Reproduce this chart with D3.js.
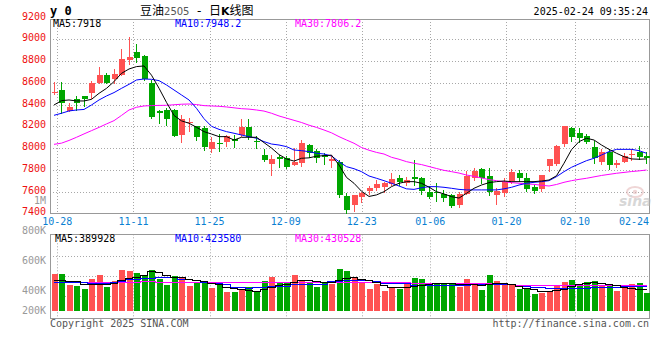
<!DOCTYPE html>
<html><head><meta charset="utf-8">
<script src="https://cdn.jsdelivr.net/npm/d3@7"></script>
<style>body{margin:0;background:#fff}svg{display:block}</style>
</head><body><svg id="c" width="660" height="360"></svg>
<script>
const dates = ['10-25','10-28','10-29','10-30','10-31','11-01','11-04','11-05','11-06','11-07','11-08',
'11-11','11-12','11-13','11-14','11-15','11-18','11-19','11-20','11-21','11-22',
'11-25','11-26','11-27','11-28','11-29','12-02','12-03','12-04','12-05','12-06',
'12-09','12-10','12-11','12-12','12-13','12-16','12-17','12-18','12-19','12-20',
'12-23','12-24','12-25','12-26','12-27','12-30','12-31','01-02','01-03',
'01-06','01-07','01-08','01-09','01-10','01-13','01-14','01-15','01-16','01-17',
'01-20','01-21','01-22','01-23','01-24','01-27','02-05','02-06','02-07',
'02-10','02-11','02-12','02-13','02-14','02-17','02-18','02-19','02-20','02-21','02-24'];
const open = [8510,8534,8341,8451,8479,8510,8601,8672,8635,8672,
8813,8883,8847,8595,8344,8350,8350,8120,8236,8203,
8188,7992,8050,8056,8080,8120,8197,8066,7936,7857,
7915,7909,7844,7866,8028,7976,7936,7884,7875,7559,
7477,7553,7608,7636,7640,7670,7722,7682,7731,7722,
7599,7600,7578,7569,7477,7578,7722,7805,7743,7569,
7590,7700,7774,7722,7639,7621,7835,7854,8037,8182,
8142,8111,8013,7875,7967,7841,7875,7936,7967,7930];
const high = [8611,8607,8412,8479,8482,8620,8749,8693,8724,8911,
9024,8957,8856,8626,8350,8365,8356,8304,8280,8205,
8206,8105,8126,8120,8120,8267,8267,8111,7991,7936,
7936,7927,7998,8074,8036,7991,7957,7933,7890,7584,
7572,7599,7651,7706,7691,7774,7752,7737,7890,7737,
7651,7676,7615,7578,7599,7792,7814,7814,7814,7630,
7722,7805,7798,7768,7660,7755,7900,8028,8206,8197,
8182,8129,8068,7988,7988,7890,7958,7988,8019,7967];
const low = [8494,8320,8338,8350,8385,8460,8597,8597,8600,8670,
8770,8795,8625,8274,8234,8212,8112,8059,8160,8074,
7982,7967,7976,8019,8013,8111,8080,7998,7884,7752,
7823,7814,7842,7835,7915,7876,7854,7829,7553,7405,
7424,7507,7578,7615,7600,7660,7660,7660,7660,7578,
7538,7516,7516,7455,7461,7575,7706,7676,7569,7486,
7559,7682,7700,7608,7584,7608,7792,7844,8019,8068,
8059,8044,7860,7854,7805,7829,7872,7890,7897,7860];
const close = [8520,8418,8375,8418,8455,8595,8672,8601,8681,8819,
8837,8831,8632,8283,8320,8270,8114,8264,8242,8105,
8013,8056,8034,8111,8066,8197,8099,8053,7890,7903,
7898,7823,7872,8050,7952,7906,7915,7897,7569,7430,
7569,7584,7636,7670,7676,7716,7691,7706,7716,7608,
7553,7594,7544,7467,7578,7743,7789,7722,7599,7608,
7691,7783,7722,7621,7608,7752,7897,8019,8203,8105,
8096,8059,7906,7967,7844,7866,7927,7945,7921,7910];
const ma5 = [8396,8436,8442,8433,8433,8448,8503,8549,8611,8687,
8727,8749,8755,8670,8550,8420,8300,8250,8228,8191,
8151,8129,8105,8105,8074,8099,8099,8099,8050,8000,
7940,7900,7880,7906,7910,7925,7930,7935,7844,7730,
7676,7603,7555,7569,7599,7645,7676,7691,7691,7676,
7640,7599,7578,7553,7540,7584,7630,7660,7682,7691,
7697,7691,7691,7691,7691,7697,7706,7745,7860,7985,
8059,8090,8074,8028,7988,7952,7921,7900,7897,7900];
const ma10 = [8301,8320,8341,8350,8355,8396,8442,8479,8510,8549,
8586,8626,8635,8632,8620,8580,8534,8488,8442,8365,
8270,8200,8172,8151,8136,8120,8105,8090,8059,8037,
8028,8013,7982,7976,7967,7952,7945,7927,7875,7829,
7810,7783,7743,7722,7700,7676,7651,7625,7620,7635,
7645,7645,7639,7630,7620,7615,7615,7615,7615,7615,
7625,7639,7660,7676,7685,7691,7700,7737,7783,7823,
7854,7884,7906,7936,7967,7988,7988,7988,7976,7952];
const ma30 = [8034,8045,8070,8099,8130,8160,8190,8222,8252,8300,
8350,8375,8387,8390,8392,8393,8398,8403,8405,8400,
8390,8387,8384,8378,8370,8362,8358,8350,8340,8320,
8295,8275,8255,8235,8210,8190,8166,8140,8105,8074,
8044,8005,7980,7960,7945,7915,7897,7875,7860,7848,
7830,7812,7795,7783,7770,7752,7740,7725,7710,7700,
7690,7682,7676,7670,7666,7658,7651,7665,7685,7700,
7712,7722,7735,7748,7758,7768,7776,7784,7790,7798];
const volume = [567000,567000,457000,447000,417000,517000,557000,437000,497000,607000,
597000,580000,554000,607000,517000,457000,547000,524000,447000,490000,
500000,430000,457000,390000,390000,407000,434000,390000,497000,534000,
490000,474000,557000,507000,490000,440000,480000,467000,617000,597000,
530000,474000,417000,464000,397000,434000,414000,474000,524000,514000,
457000,474000,474000,474000,434000,517000,480000,407000,554000,497000,
474000,457000,417000,427000,364000,380000,397000,454000,484000,507000,
467000,487000,497000,457000,447000,397000,447000,464000,474000,374000];
const vma5 = [505000,505000,500000,495000,470000,467000,467000,470000,480000,510000,
525000,540000,557000,597000,590000,557000,540000,535000,520000,505000,
495000,475000,467000,440000,427000,414000,410000,400000,415000,440000,
460000,465000,490000,505000,505000,497000,490000,485000,510000,530000,
535000,520000,507000,490000,460000,440000,434000,440000,447000,455000,
470000,474000,480000,474000,470000,470000,465000,460000,470000,475000,
475000,470000,450000,430000,414000,400000,394000,405000,420000,447000,
465000,480000,485000,480000,470000,455000,440000,430000,420000,414000];
const vma10 = [490000,490000,488000,490000,485000,474000,474000,476000,490000,495000,
517000,520000,530000,532000,540000,540000,538000,520000,514000,510000,
485000,480000,478000,470000,440000,434000,432000,434000,440000,447000,
447000,450000,467000,467000,470000,467000,465000,495000,500000,507000,
507000,510000,505000,500000,480000,478000,480000,475000,457000,457000,
460000,455000,457000,460000,457000,460000,467000,467000,470000,467000,
465000,467000,447000,447000,434000,434000,430000,424000,424000,427000,
424000,424000,434000,437000,434000,440000,447000,447000,450000,447000];
const vma30 = [492000,491000,490000,490000,490000,489000,490000,490000,490000,491000,
492000,492000,493000,493000,492000,491000,491000,490000,490000,490000,
490000,489000,489000,489000,488000,488000,488000,488000,488000,488000,
488000,488000,488000,488000,487000,487000,487000,487000,487000,487000,
487000,486000,486000,486000,486000,485000,485000,484000,480000,478000,
476000,474000,474000,474000,474000,474000,474000,474000,474000,474000,
473000,472000,460000,458000,456000,456000,455000,455000,455000,455000,
455000,455000,456000,456000,456000,456000,456000,456000,456000,455000];
const priceTicks = [7400,7600,7800,8000,8200,8400,8600,8800,9000,9200];
const volTickValues = [800000,600000,400000,200000];
const volTickLabels = ['800K','600K','400K','200K'];
const volGridValues = [350000,550000,750000];
const dateTicks = ['10-28','11-11','11-25','12-09','12-23','01-06','01-20','02-10','02-24'];

const L = 50, R = 649, PT = 19, PB = 213.3, VT = 234.3, VB = 318.3;
const RED = '#ff5252', GREEN = '#00a600';
const mono = '"DejaVu Sans Mono", monospace';
const svg = d3.select('#c');
svg.append('rect').attr('width',660).attr('height',360).attr('fill','#fff');

const x = d3.scaleLinear().domain([0, dates.length-1]).range([53.5, 646]);
const gx = d3.scaleLinear().domain([dates.indexOf('10-28'), dates.indexOf('02-10')]).range([57.3, 575]);
const y = d3.scaleLinear().domain([7400, 9200]).range([213.3, 17.55]);
const vy = d3.scaleLinear().domain([200000, 400000]).range([310.7, 290.7]);
const vLabelY = d3.scaleLinear().domain([200000,400000,600000,800000]).range([310.7,290.7,260.3,230.7]);
const px = v => Math.round(v) + 0.5;

// grid
const grid = svg.append('g').attr('stroke','#a8a8a8').attr('stroke-dasharray','1,2').attr('fill','none');
priceTicks.filter(v => v > 7400 && v < 9200).forEach(v => {
  grid.append('line').attr('x1',L).attr('x2',R).attr('y1',px(y(v))).attr('y2',px(y(v)));
});
volGridValues.forEach(v => {
  grid.append('line').attr('x1',L).attr('x2',R).attr('y1',px(vy(v))).attr('y2',px(vy(v)));
});
dateTicks.forEach(d => {
  const gxv = gx(dates.indexOf(d));
  if (gxv < R - 3) {
    grid.append('line').attr('x1',px(gxv)).attr('x2',px(gxv)).attr('y1',PT).attr('y2',PB);
    grid.append('line').attr('x1',px(gxv)).attr('x2',px(gxv)).attr('y1',VT).attr('y2',VB);
  }
});

// frames
const fr = svg.append('g').attr('stroke','#999').attr('fill','none').attr('shape-rendering','crispEdges');
fr.append('path').attr('d',`M${L+0.5},${PT+0.5}H${R+0.5}V${px(PB)}H${L+0.5}Z`);
fr.append('path').attr('d',`M${L+0.5},${px(VT)}H${R+0.5}V${px(VB)}H${L+0.5}Z`);

// watermark
const wm = svg.append('g').attr('opacity',0.55);
wm.append('ellipse').attr('cx',635).attr('cy',192).attr('rx',8).attr('ry',5).attr('fill','none').attr('stroke','#e3b5b5').attr('stroke-width',2);
wm.append('circle').attr('cx',635).attr('cy',192).attr('r',2.2).attr('fill','#e3b5b5');
wm.append('text').attr('x',619).attr('y',206).attr('font-family','"DejaVu Sans", sans-serif').attr('font-size',14).attr('font-weight','bold').attr('font-style','italic').attr('fill','#b8b8b8').text('sina');

// candles
const up = i => close[i] >= open[i];
const cg = svg.append('g').attr('shape-rendering','crispEdges');
dates.forEach((d,i) => {
  const c = up(i) ? RED : GREEN;
  const cx = Math.round(x(i));
  cg.append('line').attr('x1',cx+0.5).attr('x2',cx+0.5).attr('y1',Math.round(y(high[i]))).attr('y2',Math.round(y(low[i]))+1).attr('stroke',c);
  const t = Math.round(y(Math.max(open[i],close[i])));
  const b = Math.round(y(Math.min(open[i],close[i])));
  cg.append('rect').attr('x',cx-2).attr('width',6).attr('y',t).attr('height',Math.max(1,b-t)).attr('fill',c);
});

// price MA lines
const line = d3.line().x((v,i)=>x(i)+0.5).y(v=>y(v));
[[ma30,'#ff00ff'],[ma10,'#0000ff'],[ma5,'#000000']].forEach(([arr,col]) => {
  svg.append('path').attr('d',line(arr)).attr('fill','none').attr('stroke',col).attr('stroke-width',1);
});

// volume bars
const vg = svg.append('g').attr('shape-rendering','crispEdges');
volume.forEach((v,i) => {
  const cx = Math.round(x(i));
  const t = Math.round(vy(v));
  vg.append('rect').attr('x',cx-2).attr('width',6).attr('y',t).attr('height',Math.round(vy(200000))-t).attr('fill', up(i) ? RED : GREEN);
});
const vline = d3.line().x((v,i)=>x(i)+0.5).y(v=>px(vy(v))).curve(d3.curveStep);
[[vma30,'#ff00ff'],[vma10,'#0000ff'],[vma5,'#000000']].forEach(([arr,col]) => {
  svg.append('path').attr('d',vline(arr)).attr('fill','none').attr('stroke',col).attr('stroke-width',1).attr('shape-rendering','crispEdges');
});

// axis labels
const txt = (xx,yy,s,o={}) => svg.append('text').attr('x',xx).attr('y',yy)
  .attr('font-family',o.font||mono).attr('font-size',o.size||10).attr('fill',o.fill||'#000')
  .attr('text-anchor',o.anchor||'start').attr('dominant-baseline',o.base||'auto')
  .attr('font-weight',o.weight||'normal').text(s);
priceTicks.forEach(v => txt(46, y(v)-1.5, String(v), {anchor:'end', base:'central', fill:'#ee1111'}));
txt(46, 200.5, '1M', {anchor:'end', base:'central', fill:'#999'});
volTickValues.forEach((v,k) => txt(46, vLabelY(v), volTickLabels[k], {anchor:'end', base:'central', fill:'#999'}));
dateTicks.forEach(d => {
  const gxv = gx(dates.indexOf(d));
  const w = d.length * 6.02;
  if (gxv + w/2 > R) txt(R, 225, d, {anchor:'end', fill:'#0a7fd2'});
  else txt(gxv, 225, d, {anchor:'middle', fill:'#0a7fd2'});
});

// legends
txt(53, 27, 'MA5:7918');
txt(175, 27, 'MA10:7948.2', {fill:'#0000ff'});
txt(295, 27, 'MA30:7806.2', {fill:'#ff00ff'});
txt(55, 242, 'MA5:389928');
txt(175, 242, 'MA10:423580', {fill:'#0000ff'});
txt(295, 242, 'MA30:430528', {fill:'#ff00ff'});

// title
txt(50, 14.5, 'y 0', {weight:'bold', size:12});
const tt = svg.append('text').attr('x',140).attr('y',15).attr('font-family','"Noto Sans CJK SC", sans-serif').attr('font-size',12).attr('fill','#000');
tt.append('tspan').text('豆油');
tt.append('tspan').attr('font-family','"DejaVu Sans", sans-serif').attr('font-size',10).attr('fill','#555').text('2505');
tt.append('tspan').attr('font-family','"DejaVu Sans", sans-serif').attr('font-size',12).text('\u00a0 -\u00a0 ');
tt.append('tspan').text('日');
tt.append('tspan').attr('font-weight','bold').attr('font-family','"DejaVu Sans", sans-serif').attr('font-size',11).text('K');
tt.append('tspan').text('线图');
txt(648, 15, '2025-02-24 09:35:24', {anchor:'end'});

txt(50, 327, 'Copyright 2025 SINA.COM', {fill:'#555'});
txt(R, 327, 'http://finance.sina.com.cn', {anchor:'end', fill:'#555'});
</script></body></html>
